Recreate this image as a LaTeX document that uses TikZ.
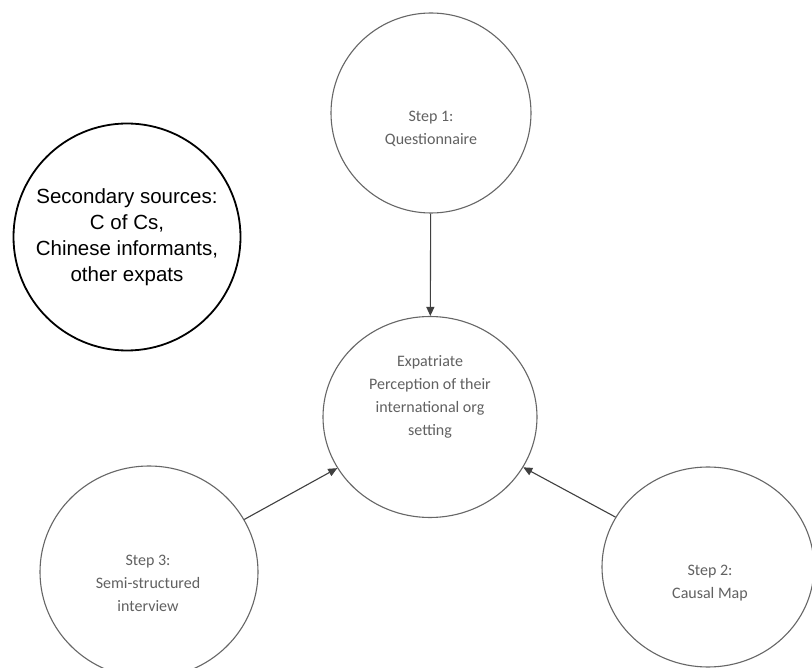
\documentclass[tikz,border=0pt]{standalone}
\usepackage{fontspec}
\setmainfont{Carlito}
\newfontfamily\arialfont{Liberation Sans}
\usetikzlibrary{shapes.geometric,arrows.meta}
\begin{document}
\begin{tikzpicture}[x=1pt,y=-1pt,
  stepcircle/.style={ellipse,draw=black!60,line width=1.1pt,inner sep=0pt,fill=none},
  srccircle/.style={ellipse,draw=black,line width=1.8pt,inner sep=0pt},
  steptext/.style={align=center,text=black!62,font=\fontsize{16}{23}\selectfont},
  srctext/.style={align=center,text=black,font=\arialfont\fontsize{20.5}{26}\selectfont},
  flow/.style={draw=black!75,line width=1.1pt,-{Triangle[length=9pt,width=8pt]}}]
\useasboundingbox (0,0) rectangle (812,668);
\fill[white] (0,0) rectangle (812,668);

% circles
\node[stepcircle,minimum width=200,minimum height=200] (q) at (431,113) {};
\node[stepcircle,minimum width=214,minimum height=201] (c) at (430,417) {};
\node[stepcircle,minimum width=218,minimum height=212] (s3) at (149,572) {};
\node[stepcircle,minimum width=212,minimum height=200] (s2) at (708,567) {};
\node[srccircle,minimum width=227,minimum height=227] (src) at (127,237) {};

% texts
\node[steptext] (tq) at (431,129) {Step 1:\\Questionnaire};
\node[steptext] (tc) at (430,397) {Expatriate\\Perception of their\\international org\\setting};
\node[steptext] (ts3) at (148,583) {Step 3:\\Semi-structured\\interview};
\node[steptext] (ts2) at (710,583) {Step 2:\\Causal Map};
\node[srctext] (tsrc) at (127,237) {Secondary sources:\\C of Cs,\\Chinese informants,\\other expats};

% connectors
\draw[flow] (q) -- (c);
\draw[flow] (s3) -- (c);
\draw[flow] (s2) -- (c);
\end{tikzpicture}
\end{document}
